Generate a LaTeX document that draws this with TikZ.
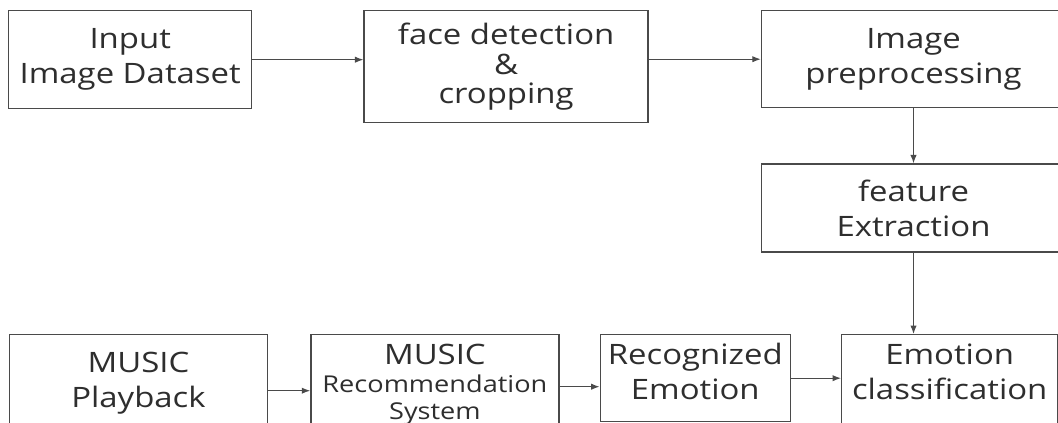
\documentclass[tikz,border=0pt]{standalone}
\usepackage{fontspec}
\setmainfont{Open Sans}[FakeStretch=1.17]
\usepackage{xcolor}
\definecolor{boxline}{HTML}{4A4A4A}
\definecolor{boxtext}{HTML}{2E2E2E}
\usetikzlibrary{positioning, arrows.meta}

\begin{document}
\begin{tikzpicture}[
  stage/.style={draw=boxline, line width=1pt, fill=white, text=boxtext,
                minimum width=#1, align=center, inner sep=0pt,
                font=\fontsize{20}{25}\selectfont},
  stage/.default=6cm,
  arr/.style={-{Latex[length=6pt,width=4.5pt]}, line width=0.8pt, color=boxline}
]
  \useasboundingbox (0,0) rectangle (26.45,-10.575);
  \clip (0,0) rectangle (26.45,-10.575);

  % top row
  \node[stage=6.075cm, minimum height=2.45cm, anchor=north west] (inp) at (0.2,-0.25)
    {Input\\Image Dataset};
  \node[stage=7.1cm, minimum height=2.8cm, font=\fontsize{20}{21}\selectfont,
        right=2.775cm of inp.north east, anchor=north west] (face)
    {face detection\\\&\\cropping};
  \node[stage=7.6cm, minimum height=2.425cm,
        right=2.8cm of face.north east, anchor=north west] (prep) {Image\\preprocessing};
  \node[stage=7.6cm, minimum height=2.2cm, below=1.375cm of prep] (feat)
    {feature\\Extraction};

  % bottom row
  \node[stage=5.4cm, minimum height=2.5cm, text depth=0.65cm, anchor=north west] (emo)
    at (21.025,-8.35) {Emotion\\classification};
  \node[stage=4.75cm, minimum height=2.175cm, text depth=0.35cm,
        left=1.25cm of emo.north west, anchor=north east] (rec) {Recognized\\Emotion};
  \node[stage=6.2cm, minimum height=2.5cm,
        left=1cm of rec.north west, anchor=north east] (sys)
    {MUSIC\\[-5pt]{\fontsize{16.5}{18}\selectfont Recommendation}\\[-6pt]{\fontsize{16.5}{18}\selectfont System}};
  \node[stage=6.45cm, minimum height=2.5cm, text depth=0.25cm,
        left=1.05cm of sys.north west, anchor=north east] (play) {MUSIC\\Playback};

  \draw[arr] (inp.east) -- (inp.east -| face.west);
  \draw[arr] (face.east |- prep.west) -- (prep.west);
  \draw[arr] (prep) -- (feat);
  \draw[arr] (feat.south) -- (feat.south |- emo.north);
  \draw[arr] ([yshift=-0.15cm]play.east) -- ([yshift=-0.15cm]play.east -| sys.west);
  \draw[arr] ([yshift=-0.05cm]sys.east) -- ([yshift=-0.05cm]sys.east -| rec.west);
  \draw[arr] (rec.east) -- (rec.east -| emo.west);
\end{tikzpicture}
\end{document}
